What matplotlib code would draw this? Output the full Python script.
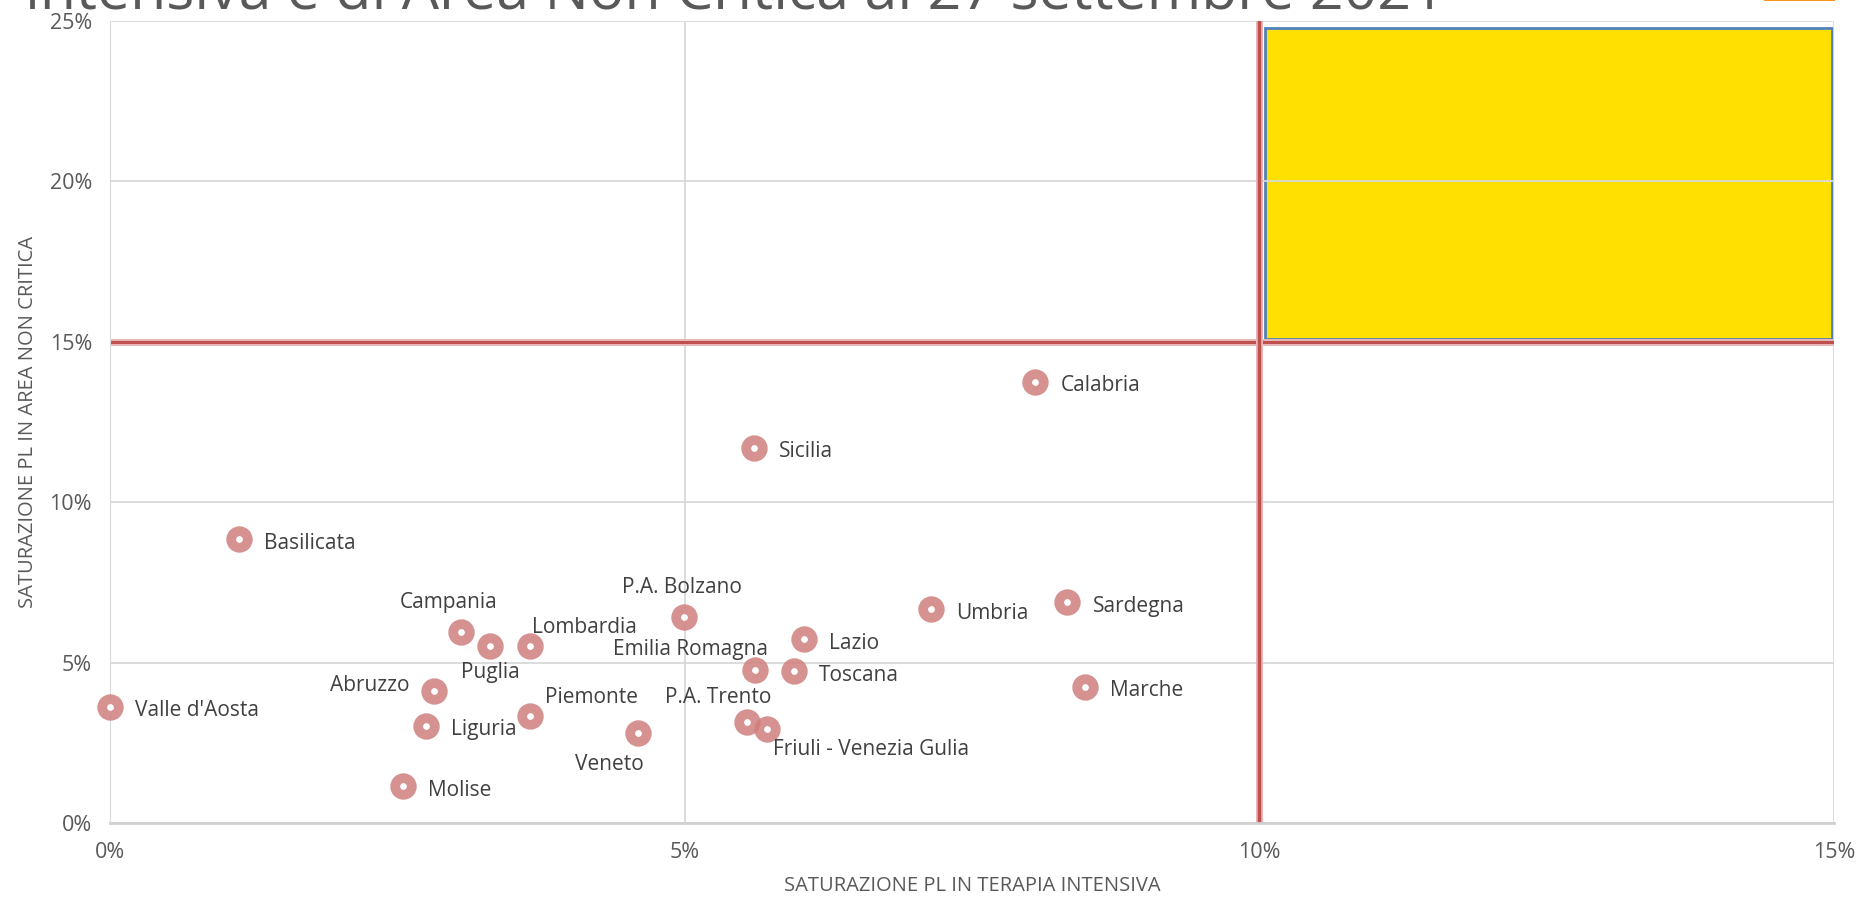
import matplotlib
matplotlib.use("Agg")
import matplotlib.pyplot as plt
from matplotlib.patches import Rectangle
from matplotlib.ticker import FuncFormatter

# Saturazione posti letto per regione (valori in %)
regioni = ["Valle d'Aosta", "Basilicata", "Campania", "Puglia", "Lombardia",
           "Abruzzo", "Liguria", "Piemonte", "Molise", "Veneto",
           "P.A. Bolzano", "Emilia Romagna", "P.A. Trento",
           "Friuli - Venezia Gulia", "Sicilia", "Toscana", "Lazio",
           "Umbria", "Calabria", "Sardegna", "Marche"]
terapia_intensiva = [0.0, 1.12, 3.05, 3.31, 3.65, 2.82, 2.75, 3.65, 2.55, 4.59,
                     4.99, 5.61, 5.54, 5.72, 5.60, 5.95, 6.04, 7.14, 8.05, 8.33, 8.48]
area_non_critica = [3.62, 8.84, 5.95, 5.51, 5.51, 4.10, 3.03, 3.33, 1.15, 2.81,
                    6.43, 4.77, 3.14, 2.92, 11.69, 4.73, 5.73, 6.66, 13.76, 6.88, 4.25]

# offset delle etichette (pixel) e allineamento
label_pos = {
    "Valle d'Aosta": (25, -4, "left"), "Basilicata": (25, -4, "left"),
    "Campania": (-12, 30, "center"), "Puglia": (0, -26, "center"),
    "Lombardia": (2, 19, "left"), "Abruzzo": (-25, 6, "right"),
    "Liguria": (25, -4, "left"), "Piemonte": (15, 19, "left"),
    "Molise": (25, -4, "left"), "Veneto": (-28, -32, "center"),
    "P.A. Bolzano": (-2, 29, "center"), "Emilia Romagna": (-64, 20, "center"),
    "P.A. Trento": (-29, 25, "center"), "Friuli - Venezia Gulia": (6, -20, "left"),
    "Sicilia": (25, -4, "left"), "Toscana": (25, -4, "left"),
    "Lazio": (25, -4, "left"), "Umbria": (25, -4, "left"),
    "Calabria": (25, -4, "left"), "Sardegna": (25, -4, "left"),
    "Marche": (25, -4, "left"),
}

soglia_ti = 10
soglia_anc = 15

plt.rcParams['font.family'] = ['Open Sans', 'DejaVu Sans']
fig = plt.figure(figsize=(18.59, 9.01), dpi=100)
ax = fig.add_axes([0.0592, 0.0866, 0.9274, 0.8901])

ax.set_xlim(0, 15)
ax.set_ylim(0, 25)
ax.set_xticks([0, 5, 10, 15])
ax.set_yticks([0, 5, 10, 15, 20, 25])
pct = FuncFormatter(lambda v, p: "%d%%" % v)
ax.xaxis.set_major_formatter(pct)
ax.yaxis.set_major_formatter(pct)
ax.grid(True, color="#d9d9d9", linewidth=1.3, zorder=0)
ax.tick_params(length=0, labelsize=15.5, colors="#595959", pad=13)
ax.tick_params(axis="x", pad=14)
for s in ["top", "right"]:
    ax.spines[s].set_visible(False)
ax.spines["left"].set_color("#d9d9d9")
ax.spines["bottom"].set_color("#d0d0d0")
ax.spines["bottom"].set_linewidth(2)

# riquadro giallo
ax.add_patch(Rectangle((10.05, 15.1), 4.93, 9.68, facecolor="#ffe000",
                       edgecolor="#4f81bd", linewidth=2, zorder=1))

# soglie
ax.plot([0, 15], [soglia_anc, soglia_anc], color="#e6b8b7", linewidth=5, zorder=2)
ax.plot([0, 15], [soglia_anc, soglia_anc], color="#c0504d", linewidth=2.2, zorder=2)
ax.plot([soglia_ti, soglia_ti], [0, 25], color="#e6b8b7", linewidth=5, zorder=2)
ax.plot([soglia_ti, soglia_ti], [0, 25], color="#c0504d", linewidth=2.5, zorder=2)

ax.plot(terapia_intensiva, area_non_critica, linestyle="none", marker="o",
        markersize=12, markerfacecolor="white", markeredgecolor="#cf7f7d",
        markeredgewidth=7, alpha=0.85, zorder=3, clip_on=False)

for nome, x, y in zip(regioni, terapia_intensiva, area_non_critica):
    dx, dy, ha = label_pos[nome]
    ax.annotate(nome, (x, y), xytext=(dx, dy), textcoords="offset pixels",
                ha=ha, va="center", fontsize=15, color="#404040", zorder=4)

ax.set_xlabel("SATURAZIONE PL IN TERAPIA INTENSIVA", fontsize=14.5,
              color="#595959", labelpad=9)
ax.set_ylabel("SATURAZIONE PL IN AREA NON CRITICA", fontsize=14.5,
              color="#595959", labelpad=8)

# titolo (tagliato in alto come nell'originale)
fig.text(0.0135, 0.989, "intensiva e di Area Non Critica al 27 settembre 2021",
         fontsize=42.5, color="#595959", va="baseline", ha="left")
fig.patches.append(Rectangle((0.949, 0.9985), 0.038, 0.0015, transform=fig.transFigure,
                             facecolor="#f7941d", edgecolor="none"))

plt.savefig("out.png", dpi=100)
